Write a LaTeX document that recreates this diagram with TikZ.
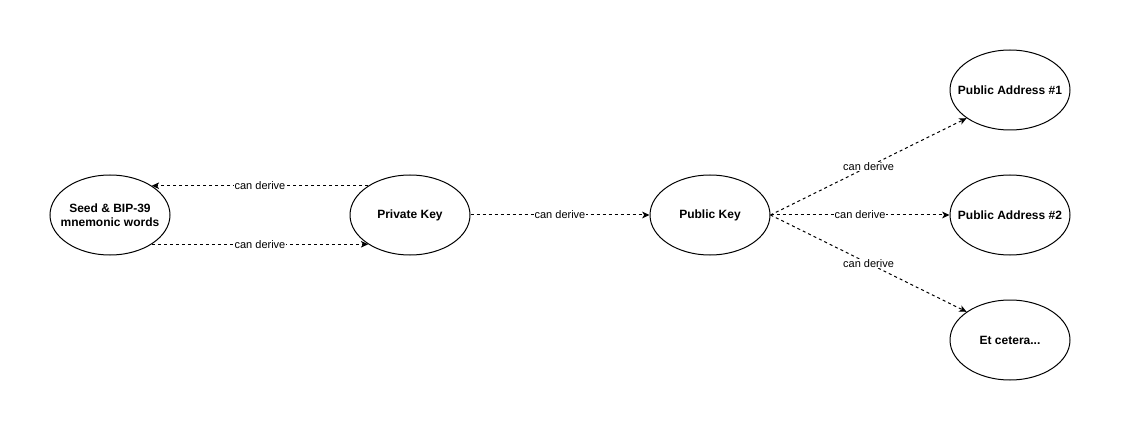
\documentclass[tikz,border=0pt]{standalone}
\usepackage{fontspec}
\setmainfont{Liberation Sans}
\usetikzlibrary{arrows.meta,shapes.geometric}
\newcommand\zbox[1]{\makebox[0pt]{#1}}
\begin{document}
\begin{tikzpicture}[x=0.75pt,y=-0.75pt,
  ell/.style={ellipse,draw=black,line width=0.75pt,minimum width=90pt,minimum height=60pt,inner sep=0pt,align=center,font=\fontsize{9}{10.5}\selectfont\bfseries},
  conn/.style={draw=black,line width=0.75pt,dash pattern=on 2.25pt off 2.25pt,-{Stealth[length=5.5pt,width=5pt,inset=1.5pt]}},
  lbl/.style={fill=white,inner sep=0.5pt,font=\fontsize{8.25}{9}\selectfont}]
\useasboundingbox[fill=white] (0,0) rectangle (1121,431);
\node[ell] (seed) at (110,215) {\zbox{Seed \& BIP-39}\\\zbox{mnemonic words}};
\node[ell] (priv) at (410,215) {\zbox{Private Key}};
\node[ell] (pub) at (710,215) {\zbox{Public Key}};
\node[ell] (pa1) at (1010,90) {\zbox{Public Address \#1}};
\node[ell] (pa2) at (1010,215) {\zbox{Public Address \#2}};
\node[ell] (etc) at (1010,340) {\zbox{Et cetera...}};
\draw[conn] (priv.145) -- node[lbl]{can derive} (seed.35);
\draw[conn] (seed.-35) -- node[lbl]{can derive} (priv.-145);
\draw[conn] (priv.east) -- node[lbl]{can derive} (pub.west);
\draw[conn] (pub.east) -- node[lbl]{can derive} (pa1.213);
\draw[conn] (pub.east) -- node[lbl]{can derive} (pa2.west);
\draw[conn] (pub.east) -- node[lbl]{can derive} (etc.147);
\end{tikzpicture}
\end{document}
